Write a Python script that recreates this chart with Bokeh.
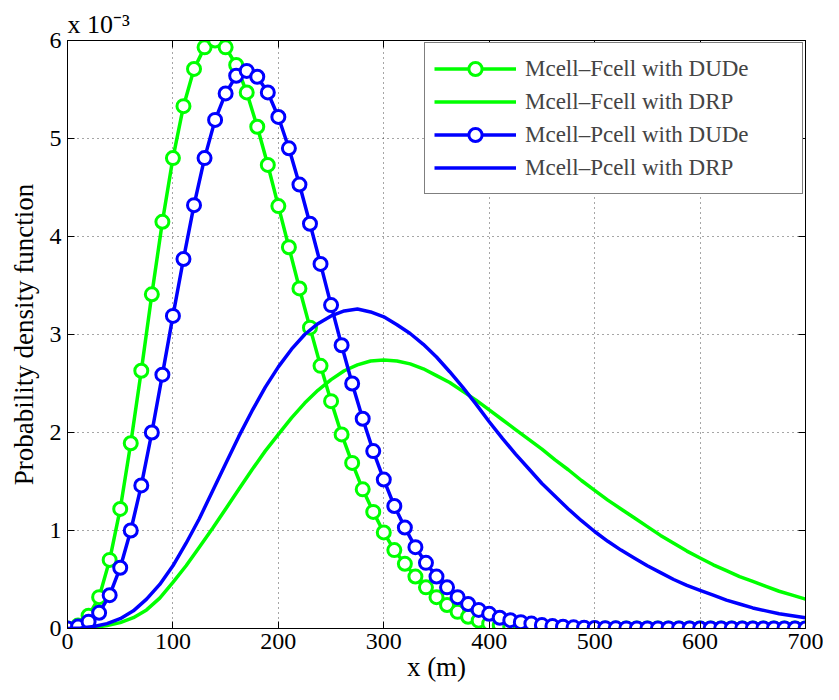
from bokeh.plotting import figure
from bokeh.models import Range1d, LinearAxis, FixedTicker, Legend, LegendItem
from bokeh.embed import file_html
from bokeh.resources import INLINE

# ---- data (y values in units of 10^-3) ----
x_dude = list(range(0, 701, 10))
fcell_dude = [0, 0.03, 0.13, 0.32, 0.70, 1.22, 1.89, 2.63, 3.41, 4.15,
              4.80, 5.33, 5.71, 5.93, 6.00, 5.93, 5.75, 5.47, 5.12, 4.73,
              4.31, 3.89, 3.47, 3.07, 2.68, 2.32, 1.98, 1.69, 1.42, 1.19,
              0.98, 0.80, 0.66, 0.53, 0.42, 0.32, 0.24, 0.17, 0.12, 0.08,
              0.05, 0.035, 0.02, 0.012, 0.008, 0.005, 0.003, 0.002, 0.001,
              0, 0, 0, 0, 0, 0, 0, 0, 0, 0, 0, 0, 0, 0, 0, 0, 0, 0, 0, 0, 0, 0]
pcell_dude = [0, 0.02, 0.07, 0.16, 0.34, 0.62, 1.00, 1.46, 2.00, 2.59,
              3.19, 3.77, 4.32, 4.80, 5.19, 5.46, 5.64, 5.69, 5.63, 5.47,
              5.22, 4.90, 4.53, 4.13, 3.72, 3.30, 2.89, 2.50, 2.14, 1.81,
              1.52, 1.25, 1.03, 0.83, 0.67, 0.53, 0.42, 0.32, 0.25, 0.19,
              0.15, 0.11, 0.085, 0.065, 0.05, 0.035, 0.025, 0.018, 0.012, 0.008,
              0.005, 0.003, 0.002, 0.001,
              0, 0, 0, 0, 0, 0, 0, 0, 0, 0, 0, 0, 0, 0, 0, 0, 0]
x_drp = [i * 12.5 for i in range(57)]
fcell_drp = [0, 0.003, 0.01, 0.03, 0.06, 0.11, 0.19, 0.31, 0.47, 0.64,
             0.83, 1.02, 1.22, 1.42, 1.62, 1.81, 1.98, 2.15, 2.30, 2.43,
             2.54, 2.63, 2.69, 2.73, 2.74, 2.73, 2.70, 2.65, 2.58, 2.51,
             2.42, 2.33, 2.23, 2.13, 2.03, 1.93, 1.83, 1.72, 1.62, 1.51,
             1.41, 1.31, 1.22, 1.13, 1.04, 0.95, 0.87, 0.79, 0.72, 0.65,
             0.59, 0.53, 0.48, 0.43, 0.38, 0.34, 0.30]
pcell_drp = [0, 0.005, 0.02, 0.05, 0.10, 0.18, 0.30, 0.45, 0.64, 0.87,
             1.12, 1.40, 1.68, 1.96, 2.22, 2.46, 2.67, 2.85, 3.00, 3.11,
             3.19, 3.24, 3.26, 3.23, 3.18, 3.10, 3.01, 2.90, 2.77, 2.62,
             2.46, 2.29, 2.11, 1.94, 1.78, 1.63, 1.48, 1.35, 1.22, 1.10,
             0.99, 0.89, 0.80, 0.72, 0.64, 0.57, 0.50, 0.44, 0.39, 0.34,
             0.29, 0.25, 0.21, 0.18, 0.15, 0.13, 0.11]
x_ticks = [0, 100, 200, 300, 400, 500, 600, 700]
y_ticks = [0, 1, 2, 3, 4, 5, 6]
labels = ["Mcell\u2013Fcell with DUDe", "Mcell\u2013Fcell with DRP",
          "Mcell\u2013Pcell with DUDe", "Mcell\u2013Pcell with DRP"]

GREEN = "#00ff00"
BLUE = "#0000ff"
FONT = "Liberation Serif"

p = figure(width=823, height=684,
           x_range=Range1d(0, 700), y_range=Range1d(0, 6),
           output_backend="svg", toolbar_location=None,
           min_border_left=67, min_border_right=18,
           min_border_top=40, min_border_bottom=56,
           background_fill_color="white", border_fill_color="white")

p.title.text = "x 10\u207b\u00b3"
p.title.align = "left"
p.title.text_font = FONT
p.title.text_font_size = "26px"
p.title.text_font_style = "normal"
p.title.text_color = "black"
p.title.standoff = 3

p.outline_line_color = "black"
p.outline_line_width = 1

for ax in (p.xaxis[0], p.yaxis[0]):
    ax.major_tick_in = 7
    ax.major_tick_out = 0
    ax.minor_tick_line_color = None
    ax.axis_line_color = "black"
    ax.major_tick_line_color = "black"
    ax.major_label_text_font = FONT
    ax.major_label_text_font_size = "24px"
    ax.major_label_text_color = "black"
    ax.axis_label_text_font = FONT
    ax.axis_label_text_font_size = "27px"
    ax.axis_label_text_font_style = "normal"
    ax.axis_label_text_color = "black"

p.xaxis.ticker = FixedTicker(ticks=x_ticks)
p.yaxis.ticker = FixedTicker(ticks=y_ticks)
p.xaxis.axis_label = "x (m)"
p.yaxis.axis_label = "Probability density function"
p.xaxis.major_label_standoff = 5
p.xaxis.axis_label_standoff = 0
p.yaxis.major_label_standoff = 6
p.yaxis.axis_label_standoff = 8

# mirrored axes (box with inward ticks, no labels)
for side, ticks in (("right", y_ticks), ("above", x_ticks)):
    ax = LinearAxis(ticker=FixedTicker(ticks=ticks))
    ax.major_tick_in = 7
    ax.major_tick_out = 0
    ax.minor_tick_line_color = None
    ax.major_label_text_color = None
    ax.major_label_text_font_size = "1px"
    ax.major_label_standoff = 0
    ax.axis_line_color = "black"
    p.add_layout(ax, side)

p.xgrid.ticker = FixedTicker(ticks=x_ticks)
p.ygrid.ticker = FixedTicker(ticks=y_ticks)
p.grid.grid_line_color = "black"
p.grid.grid_line_dash = "1 4"
p.grid.grid_line_alpha = 0.7

LW = 3.5
r_fd_line = p.line(x_dude, fcell_dude, line_color=GREEN, line_width=LW)
r_fd_pts = p.scatter(x_dude, fcell_dude, marker="circle", size=13,
                     line_color=GREEN, line_width=3, fill_color="white")
r_fr = p.line(x_drp, fcell_drp, line_color=GREEN, line_width=LW)
r_pd_line = p.line(x_dude, pcell_dude, line_color=BLUE, line_width=LW)
r_pd_pts = p.scatter(x_dude, pcell_dude, marker="circle", size=13,
                     line_color=BLUE, line_width=3, fill_color="white")
r_pr = p.line(x_drp, pcell_drp, line_color=BLUE, line_width=LW)

legend = Legend(items=[
    LegendItem(label=labels[0], renderers=[r_fd_line, r_fd_pts]),
    LegendItem(label=labels[1], renderers=[r_fr]),
    LegendItem(label=labels[2], renderers=[r_pd_line, r_pd_pts]),
    LegendItem(label=labels[3], renderers=[r_pr]),
], location="top_right")
legend.label_text_font = FONT
legend.label_text_font_size = "23px"
legend.glyph_width = 82
legend.glyph_height = 33
legend.label_height = 33
legend.label_width = 268
legend.label_standoff = 9
legend.spacing = 0
legend.padding = 9
legend.margin = 2
legend.border_line_color = "black"
legend.border_line_width = 1
legend.background_fill_alpha = 1.0
p.add_layout(legend)

open("out.html", "w").write(file_html(p, INLINE))
